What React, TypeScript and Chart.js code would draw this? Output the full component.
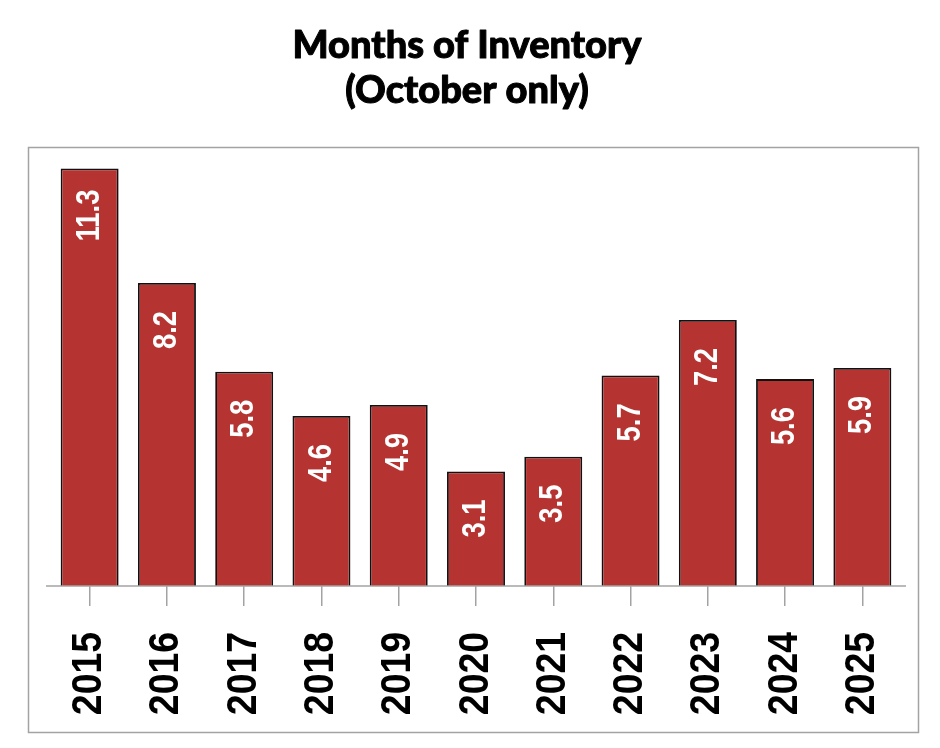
import React, { useEffect, useRef } from "react";
import { Chart, registerables } from "chart.js";

Chart.register(...registerables);

const years: string[] = ["2015", "2016", "2017", "2018", "2019", "2020", "2021", "2022", "2023", "2024", "2025"];
const monthsOfInventory: number[] = [11.3, 8.2, 5.8, 4.6, 4.9, 3.1, 3.5, 5.7, 7.2, 5.6, 5.9];
const titleLines: string[] = ["Months of Inventory", "(October only)"];

const BAR_RED = "#b53431";
const GREY = "#a3a3a3";
const DIGIT_FONT = "'Liberation Sans', Arimo, Arial, sans-serif";
const TITLE_FONT = "Lato, 'Open Sans', sans-serif";

const decorPlugin = {
  id: "decor",
  beforeDraw(chart: any) {
    const ctx = chart.ctx;
    ctx.save();
    ctx.fillStyle = "#ffffff";
    ctx.fillRect(0, 0, chart.width, chart.height);
    // outer frame
    ctx.strokeStyle = GREY;
    ctx.lineWidth = 1.5;
    ctx.strokeRect(28.5, 147.5, 890, 585);
    // title (slightly emboldened)
    ctx.fillStyle = "#000000";
    ctx.strokeStyle = "#000000";
    ctx.lineWidth = 1;
    ctx.lineJoin = "round";
    ctx.font = `900 38px ${TITLE_FONT}`;
    ctx.textAlign = "center";
    ctx.textBaseline = "alphabetic";
    titleLines.forEach((line, i) => {
      ctx.fillText(line, 467, 58 + i * 45);
      ctx.strokeText(line, 467, 58 + i * 45);
    });
    ctx.restore();
  },
  afterDatasetsDraw(chart: any) {
    const ctx = chart.ctx;
    const area = chart.chartArea;
    const xScale = chart.scales.x;
    ctx.save();
    // baseline axis line, a little wider than the plot area
    ctx.strokeStyle = GREY;
    ctx.lineWidth = 1.5;
    ctx.beginPath();
    ctx.moveTo(area.left - 5, area.bottom);
    ctx.lineTo(area.right + 5, area.bottom);
    ctx.stroke();
    // value labels inside bars (condensed bold)
    const meta = chart.getDatasetMeta(0);
    ctx.fillStyle = "#ffffff";
    ctx.font = `bold 33px ${DIGIT_FONT}`;
    ctx.textAlign = "center";
    ctx.textBaseline = "middle";
    meta.data.forEach((bar: any, i: number) => {
      ctx.save();
      ctx.translate(bar.x, bar.y + 47);
      ctx.rotate(-Math.PI / 2);
      ctx.scale(0.83, 1);
      ctx.fillText(monthsOfInventory[i].toFixed(1), 0, 0);
      ctx.restore();
    });
    // category labels, rotated, condensed bold
    ctx.fillStyle = "#000000";
    ctx.font = `bold 42px ${DIGIT_FONT}`;
    ctx.textAlign = "right";
    ctx.textBaseline = "middle";
    years.forEach((label, i) => {
      const x = xScale.getPixelForTick(i);
      ctx.save();
      ctx.translate(x, area.bottom + 46);
      ctx.rotate(-Math.PI / 2);
      ctx.scale(0.89, 1);
      ctx.fillText(label, 0, 0);
      ctx.restore();
    });
    ctx.restore();
  },
};

export default function App() {
  const canvasRef = useRef<HTMLCanvasElement | null>(null);

  useEffect(() => {
    document.body.style.margin = "0";
    const canvas = canvasRef.current;
    if (!canvas) return;
    const chart = new Chart(canvas, {
      type: "bar",
      data: {
        labels: years,
        datasets: [
          {
            data: monthsOfInventory,
            backgroundColor: BAR_RED,
            borderColor: "#111111",
            borderWidth: 1.8,
            barPercentage: 0.75,
            categoryPercentage: 1,
          },
        ],
      },
      options: {
        animation: false,
        responsive: true,
        maintainAspectRatio: false,
        layout: { padding: { top: 150, left: 51, right: 39, bottom: 0 } },
        plugins: {
          legend: { display: false },
          title: { display: false },
          tooltip: { enabled: false },
        },
        scales: {
          y: {
            display: false,
            min: 0,
            max: 11.8,
          },
          x: {
            display: true,
            border: { display: false },
            grid: {
              display: true,
              offset: false,
              drawOnChartArea: false,
              drawTicks: true,
              tickLength: 20,
              color: GREY,
              lineWidth: 1.5,
            },
            ticks: {
              display: false,
              autoSkip: false,
            },
            afterFit: (scale: any) => {
              scale.height = 162;
            },
          },
        },
      },
      plugins: [decorPlugin],
    });
    return () => chart.destroy();
  }, []);

  return (
    <div style={{ position: "absolute", left: 0, top: 0, width: 940, height: 748 }}>
      <canvas ref={canvasRef} />
    </div>
  );
}
